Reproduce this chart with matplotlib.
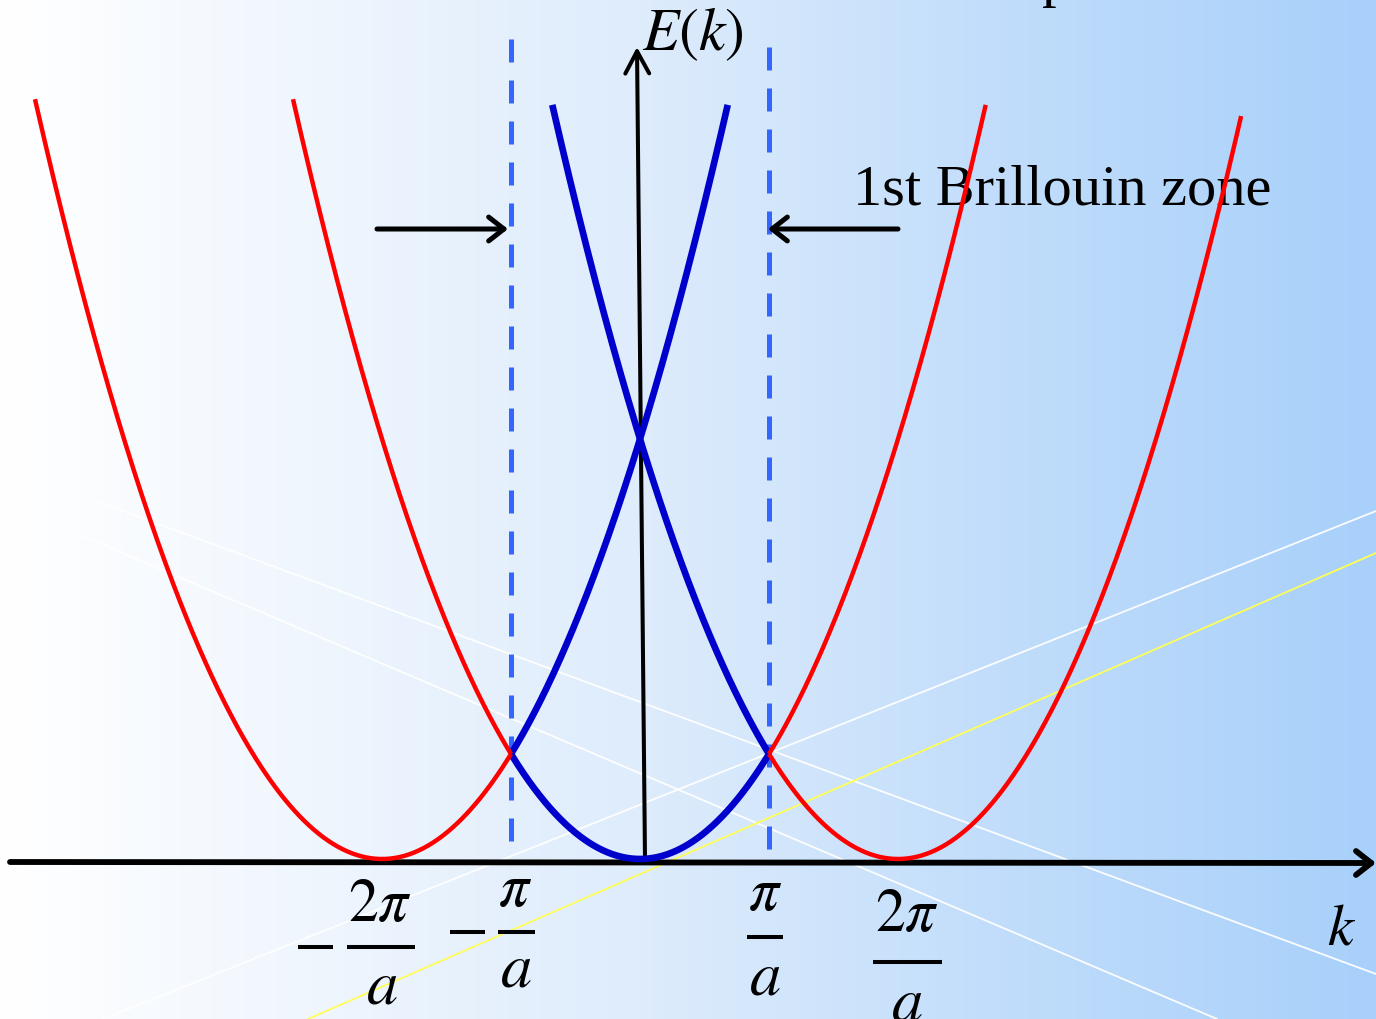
import numpy as np
import matplotlib.pyplot as plt
from matplotlib.patches import FancyArrowPatch

plt.rcParams['mathtext.fontset'] = 'stix'
plt.rcParams['font.family'] = ['Liberation Serif', 'DejaVu Serif']

# page layout (pixels) -> data units (k in pi/a, E in units of (pi/a)^2)
X0, Y0, KPX, EPX = 640, 860, 129, 105
W, H = 1376, 1020


def at(x, y):
    return (x - X0) / KPX, (Y0 - y) / EPX


# free-electron parabolas E = (k - G)^2, G = reciprocal lattice vectors
band_centers = [-2, 0, 2]
red_ranges = [(-2, -4.69, -1.0), (0, -2.69, -1.0), (0, 1.0, 2.68), (2, 1.0, 4.66)]
blue_ranges = [(-2, -1.0, 0.68), (0, -1.0, 1.0), (2, -0.68, 1.0)]

zone_edges = [-1, 1]
zone_tops = [7.81, 7.73]

# background shading
grad_x = [0, 45, 640, 1000, 1376]
grad_rgb = [(255, 255, 255), (253, 254, 255), (222, 236, 252), (193, 221, 251), (168, 208, 250)]

# thin decoration lines (page pixels)
white_lines = [((45, 483), (1376, 975)), ((45, 521), (1217, 1020)), ((103, 1020), (1376, 512))]
yellow_lines = [((308, 1020), (1376, 554))]

fig = plt.figure(figsize=(W / 100, H / 100), dpi=100)
ax = fig.add_axes([0, 0, 1, 1])
xl = at(0, 0)[0], at(W, 0)[0]
yl = at(0, H)[1], at(0, 0)[1]
ax.set_xlim(*xl)
ax.set_ylim(*yl)
ax.axis('off')

xs = np.arange(W)
rgb = np.stack([np.interp(xs, grad_x, [c[i] for c in grad_rgb]) for i in range(3)], axis=-1) / 255
ax.imshow(rgb[None, :, :], extent=[xl[0], xl[1], yl[0], yl[1]], aspect='auto', zorder=0)

for (p, q) in white_lines:
    a, b = at(*p), at(*q)
    ax.plot([a[0], b[0]], [a[1], b[1]], color='white', lw=1.3, alpha=0.95, zorder=1)
for (p, q) in yellow_lines:
    a, b = at(*p), at(*q)
    ax.plot([a[0], b[0]], [a[1], b[1]], color='#ffff55', lw=1.3, zorder=1)

# Brillouin zone boundaries, dashes start from the top
for kz, top in zip(zone_edges, zone_tops):
    ax.plot([kz, kz], [top, 0], color='#3366ff', lw=3.6, ls=(0, (4.6, 3.6)), zorder=2)

# axes with arrows
def arrow(p, q, lw, hl, hw, z=3):
    ax.add_patch(FancyArrowPatch(p, q, arrowstyle=f'->,head_length={hl},head_width={hw}',
                                 mutation_scale=10, lw=lw, color='black',
                                 shrinkA=0, shrinkB=0, zorder=z))

arrow(at(10, 863), at(1376, 864), 4.2, 1.1, 0.86)
arrow(at(645, 860), at(637, 48), 2.9, 1.6, 0.86)
arrow(at(377, 230), at(508, 230), 3.6, 1.1, 0.86)
arrow(at(898, 230), at(768, 230), 3.6, 1.1, 0.86)

for g, k1, k2 in blue_ranges:
    k = np.linspace(k1, k2, 300)
    ax.plot(k, (k - g) ** 2, color='#0000cc', lw=4.8, solid_capstyle='butt', zorder=4)
for g, k1, k2 in red_ranges:
    k = np.linspace(k1, k2, 300)
    ax.plot(k, (k - g) ** 2, color='#ff0000', lw=3.2, solid_capstyle='butt', zorder=5)

ax.text(*at(642, 50), r'$E(k)$', fontsize=43, ha='left', va='baseline', zorder=4.5)
ax.text(*at(853, 205), '1st Brillouin zone', fontsize=42, ha='left', va='baseline', zorder=4.5)
ax.text(*at(1327, 945), r'$k$', fontsize=42, ha='left', va='baseline', zorder=4.5)
ax.text(*at(1057, -4), 'p', fontsize=42, ha='center', va='baseline', zorder=4.5)

# zone boundary labels as stacked fractions
tick_labels = [
    # numerator, numerator centre, bar x-range, bar y, 'a' centre, minus x-range
    (r'$2\pi$', (380, 907), (347, 415), 948, (382, 989), (298, 333)),
    (r'$\pi$', (515, 892), (498, 535), 933, (516, 972), (450, 485)),
    (r'$\pi$', (765, 896), (747, 783), 938, (765, 980), None),
    (r'$2\pi$', (907, 917), (873, 942), 963, (907, 1006), None),
]
for num, nc, bar, by, ac, minus in tick_labels:
    ax.text(*at(*nc), num, fontsize=43, ha='center', va='center', zorder=6)
    ax.text(*at(*ac), r'$a$', fontsize=45, ha='center', va='center', zorder=6)
    b0, b1 = at(bar[0], by), at(bar[1], by)
    ax.plot([b0[0], b1[0]], [b0[1], b1[1]], color='black', lw=2.9, solid_capstyle='butt', zorder=6)
    if minus:
        m0, m1 = at(minus[0], by), at(minus[1], by)
        ax.plot([m0[0], m1[0]], [m0[1], m1[1]], color='black', lw=2.9, solid_capstyle='butt', zorder=6)

fig.savefig('out.png', dpi=100)
